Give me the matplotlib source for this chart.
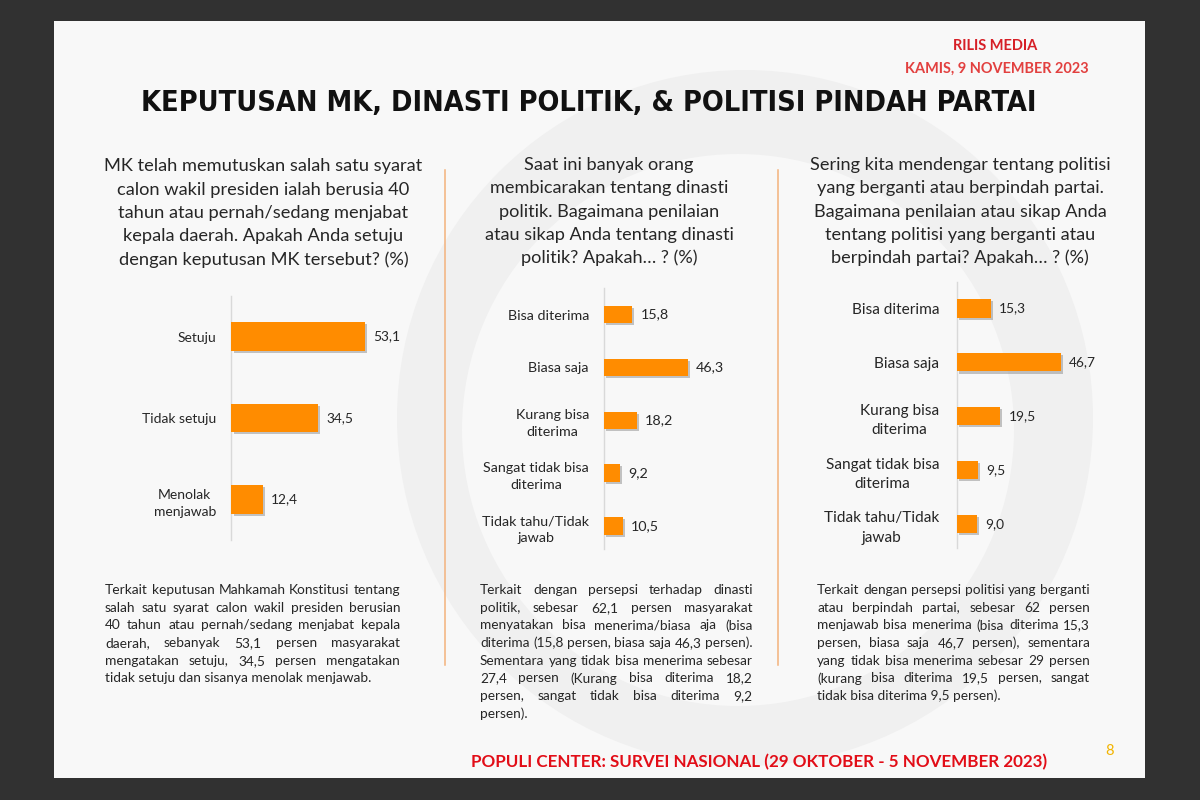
import matplotlib
matplotlib.use('Agg')
import matplotlib.pyplot as plt
from matplotlib.patches import Rectangle, Circle
import matplotlib.patheffects as pe

# ---------------- data ----------------
title = "KEPUTUSAN MK, DINASTI POLITIK, & POLITISI PINDAH PARTAI"
header_1 = "RILIS MEDIA"
header_2 = "KAMIS, 9 NOVEMBER 2023"
footer = "POPULI CENTER: SURVEI NASIONAL (29 OKTOBER - 5 NOVEMBER 2023)"
page_number = "8"

q1_lines = ["MK telah memutuskan salah satu syarat",
            "calon wakil presiden ialah berusia 40",
            "tahun atau pernah/sedang menjabat",
            "kepala daerah. Apakah Anda setuju",
            "dengan keputusan MK tersebut? (%)"]
q1_categories = ["Setuju", "Tidak setuju", "Menolak\nmenjawab"]
q1_values = [53.1, 34.5, 12.4]
q1_note = ["Terkait keputusan Mahkamah Konstitusi tentang",
           "salah satu syarat calon wakil presiden berusian",
           "40 tahun atau pernah/sedang menjabat kepala",
           "daerah, sebanyak 53,1 persen masyarakat",
           "mengatakan setuju, 34,5 persen mengatakan",
           "tidak setuju dan sisanya menolak menjawab."]

q2_lines = ["Saat ini banyak orang",
            "membicarakan tentang dinasti",
            "politik. Bagaimana penilaian",
            "atau sikap Anda tentang dinasti",
            "politik? Apakah\u2026 ? (%)"]
q2_categories = ["Bisa diterima", "Biasa saja", "Kurang bisa\nditerima",
                 "Sangat tidak bisa\nditerima", "Tidak tahu/Tidak\njawab"]
q2_values = [15.8, 46.3, 18.2, 9.2, 10.5]
q2_note = ["Terkait dengan persepsi terhadap dinasti",
           "politik, sebesar 62,1 persen masyarakat",
           "menyatakan bisa menerima/biasa aja (bisa",
           "diterima (15,8 persen, biasa saja 46,3 persen).",
           "Sementara yang tidak bisa menerima sebesar",
           "27,4 persen (Kurang bisa diterima 18,2",
           "persen, sangat tidak bisa diterima 9,2",
           "persen)."]

q3_lines = ["Sering kita mendengar tentang politisi",
            "yang berganti atau berpindah partai.",
            "Bagaimana penilaian atau sikap Anda",
            "tentang politisi yang berganti atau",
            "berpindah partai? Apakah\u2026 ? (%)"]
q3_categories = ["Bisa diterima", "Biasa saja", "Kurang bisa\nditerima",
                 "Sangat tidak bisa\nditerima", "Tidak tahu/Tidak\njawab"]
q3_values = [15.3, 46.7, 19.5, 9.5, 9.0]
q3_note = ["Terkait dengan persepsi politisi yang berganti",
           "atau berpindah partai, sebesar 62 persen",
           "menjawab bisa menerima (bisa diterima 15,3",
           "persen, biasa saja 46,7 persen), sementara",
           "yang tidak bisa menerima sebesar 29 persen",
           "(kurang bisa diterima 19,5 persen, sangat",
           "tidak bisa diterima 9,5 persen)."]

# ---------------- style ----------------
BODY = 'Lato'
TXT = '#262626'
ORANGE = '#ff8c00'
SLIDE = '#f8f8f8'

W, H = 1200, 800
fig = plt.figure(figsize=(12, 8), dpi=100)
fig.patch.set_facecolor('#313131')
bg = fig.add_axes([0, 0, 1, 1])
bg.set_xlim(0, W)
bg.set_ylim(H, 0)
bg.axis('off')
renderer = fig.canvas.get_renderer()


def text_width(s, size, **kw):
    t = bg.text(0, 0, s, fontsize=size, **kw)
    w = t.get_window_extent(renderer).width
    t.remove()
    return w


def fit(s, width, **kw):
    return 10.0 * width / text_width(s, 10.0, **kw)


# slide + faint watermark
bg.add_patch(Rectangle((54, 21), 1091, 757, facecolor=SLIDE, edgecolor='none', zorder=0))
bg.add_patch(Circle((745, 418), 348, facecolor='#f0f0f0', edgecolor='none', zorder=0.5))
bg.add_patch(Circle((738, 430), 276, facecolor=SLIDE, edgecolor='none', zorder=0.6))

# header
s = fit(header_1, 85, family=BODY, weight='bold')
bg.text(995.5, 46, header_1, fontsize=s, family=BODY, weight='bold',
        color='#d61f26', ha='center', va='center')
s = fit(header_2, 185, family=BODY, weight='bold')
bg.text(996.5, 69, header_2, fontsize=s, family=BODY, weight='bold',
        color='#e2403f', ha='center', va='center')

# title
title_kw = dict(family='DejaVu Sans', weight='bold', fontstretch='condensed')
s = fit(title, 893, **title_kw)
bg.text(588.5, 103, title, fontsize=s, color='#111111', ha='center', va='center', **title_kw)

# separators
for x in (444.5, 777.5):
    bg.plot([x, x], [170, 665], color='#f3b27c', lw=1.1, zorder=1)

# questions
for lines, cx, y0, dy, ref, refw in [
        (q1_lines, 263.5, 166, 23.5, 0, 317),
        (q2_lines, 609, 165, 23.3, 3, 250),
        (q3_lines, 960, 165, 23.3, 0, 302)]:
    s = fit(lines[ref], refw, family=BODY)
    for i, line in enumerate(lines):
        bg.text(cx, y0 + i * dy, line, fontsize=s, family=BODY, color=TXT,
                ha='center', va='center', zorder=3)


# charts
def panel(cats, vals, axis_x, top, bottom, c0, spacing, ppu, bar_px,
          label_size, gap_px, value_size, linesp, width_px=190):
    ax = fig.add_axes([axis_x / W, 1 - bottom / H, width_px / W, (bottom - top) / H])
    ax.set_xlim(0, width_px / ppu)
    ax.set_ylim((bottom - c0) / spacing, (top - c0) / spacing)
    n = len(vals)
    bars = ax.barh(range(n), vals, height=bar_px / spacing, color=ORANGE, zorder=3)
    for p in bars:
        p.set_path_effects([pe.SimplePatchShadow(offset=(1.5, -1.5), shadow_rgbFace='#808080', alpha=0.45),
                            pe.Normal()])
    ax.set_yticks(range(n))
    ax.set_yticklabels(cats, fontsize=label_size, family=BODY, color=TXT)
    ax.tick_params(axis='y', length=0, pad=gap_px * 0.72)
    for lab in ax.get_yticklabels():
        lab.set_multialignment('center')
        lab.set_linespacing(linesp)
    ax.set_xticks([])
    for sp in ('top', 'right', 'bottom'):
        ax.spines[sp].set_visible(False)
    ax.spines['left'].set_color('#d9d9d9')
    ax.spines['left'].set_linewidth(1.0)
    ax.patch.set_alpha(0)
    for i, v in enumerate(vals):
        ax.annotate(f"{v:.1f}".replace('.', ','), (v, i), xytext=(5.8, 0),
                    textcoords='offset points', va='center', ha='left',
                    fontsize=value_size, family=BODY, color=TXT)
    return ax


panel(q1_categories, q1_values, 231.5, 296, 540, 336.5, 81.5, 2.51, 28.3,
      fit("Tidak setuju", 74, family=BODY), 15.5, fit("53,1", 27, family=BODY), 1.55)
panel(q2_categories, q2_values, 603.5, 288, 549, 314.5, 52.9, 1.83, 17.6,
      fit("Sangat tidak bisa", 105, family=BODY), 14.5, fit("15,8", 28, family=BODY), 1.5)
panel(q3_categories, q3_values, 957, 282, 548, 308.3, 53.9, 2.225, 18.5,
      fit("Sangat tidak bisa", 114, family=BODY), 18, fit("15,3", 27, family=BODY), 1.5)


# justified notes
def justified(lines, x0, x1, y0, dy, size):
    for i, line in enumerate(lines):
        y = y0 + i * dy
        words = line.split()
        if i == len(lines) - 1 or len(words) < 2:
            bg.text(x0, y, line, fontsize=size, family=BODY, color=TXT,
                    ha='left', va='center', zorder=3)
            continue
        widths = [text_width(w, size, family=BODY) for w in words]
        gap = max((x1 - x0 - sum(widths)) / (len(words) - 1), 2.0)
        x = x0
        for w, wd in zip(words, widths):
            bg.text(x, y, w, fontsize=size, family=BODY, color=TXT,
                    ha='left', va='center', zorder=3)
            x += wd + gap


note_size = fit(q1_note[-1], 268, family=BODY)
for lines, x0, x1 in [(q1_note, 105, 400), (q2_note, 480, 752.5), (q3_note, 817, 1090)]:
    sz = note_size
    widest = max(text_width(l, sz, family=BODY) for l in lines)
    if widest > (x1 - x0):
        sz = sz * (x1 - x0) / widest
    justified(lines, x0, x1, 590, 17.7, sz)

# footer
s = fit(footer, 575, family=BODY, weight='bold')
bg.text(759.5, 762, footer, fontsize=s, family=BODY, weight='bold',
        color='#e20d17', ha='center', va='center')
bg.text(1110, 751, page_number, fontsize=10.5, family=BODY, color='#f2b400',
        ha='center', va='center')

fig.savefig('out.png', dpi=100, facecolor=fig.get_facecolor())
